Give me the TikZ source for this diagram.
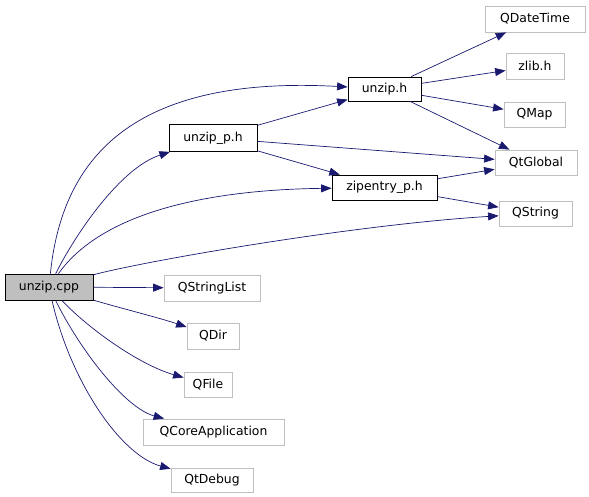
\documentclass[tikz,border=0pt]{standalone}
\usepackage{fontspec}
\newfontfamily\graphfont{DejaVu Sans}
\definecolor{DGEdge}{HTML}{191970}
\definecolor{DGGray}{HTML}{BFBFBF}
\definecolor{DGWhite}{HTML}{FFFFFF}
\usepackage{tikz}
\usetikzlibrary{positioning,arrows.meta}

\begin{document}
\begin{tikzpicture}[x=1pt, y=-1pt, font={\graphfont\fontsize{12.4}{14}\selectfont},
    file/.style={draw=black, fill=DGWhite, line width=0.8pt, inner sep=0pt, minimum height=25pt},
    ext/.style={file, draw=DGGray},
    dep/.style={-{Triangle[length=10.5pt,width=8pt]}, DGEdge, line width=0.7pt}]
    \useasboundingbox (0,0) rectangle (589,496);
    \node[file, fill=DGGray, minimum width=88pt, minimum height=26pt] (cpp) at (49,287) {unzip.cpp};
    \node[file, minimum width=88pt, minimum height=27pt] (uph) at (213,138) {unzip\_p.h};
    \node[file, minimum width=105pt] (zip) at (384.5,187.5) {zipentry\_p.h};
    \node[file, minimum width=73pt, minimum height=24pt] (uh) at (384.5,89) {unzip.h};
    \node[ext, minimum width=100pt, minimum height=26pt] (qdt) at (535,19) {QDateTime};
    \node[ext, minimum width=58pt, minimum height=26pt] (zlib) at (535,66) {zlib.h};
    \node[ext, minimum width=61pt] (qmap) at (534.5,114.5) {QMap};
    \node[ext, minimum width=82pt] (qglob) at (536,162.5) {QtGlobal};
    \node[ext, minimum width=73pt] (qstr) at (535.5,213.5) {QString};
    \node[ext, minimum width=96pt, minimum height=26pt] (qsl) at (212,288) {QStringList};
    \node[ext, minimum width=52pt, minimum height=26pt] (qdir) at (213,336) {QDir};
    \node[ext, minimum width=48pt] (qfile) at (208,384.5) {QFile};
    \node[ext, minimum width=141pt, minimum height=26pt] (qcore) at (213.5,432) {QCoreApplication};
    \node[ext, minimum width=82pt, minimum height=24pt] (qdbg) at (212,480) {QtDebug};
    % unzip.cpp
    \draw[dep] (cpp) .. controls (62,160) and (130,75) .. (uh);
    \draw[dep] (cpp) .. controls (75,235) and (120,168) .. (uph);
    \draw[dep] (cpp) .. controls (100,215) and (200,190) .. (zip);
    \draw[dep] (cpp) .. controls (140,262) and (350,225) .. (qstr);
    \draw[dep] (cpp) -- (qsl);
    \draw[dep] (cpp) .. controls (120,308) and (160,318) .. (qdir);
    \draw[dep] (cpp) .. controls (90,330) and (140,365) .. (qfile);
    \draw[dep] (cpp) .. controls (80,350) and (125,408) .. (qcore);
    \draw[dep] (cpp) .. controls (70,380) and (120,455) .. (qdbg);
    % unzip_p.h
    \draw[dep] (uph) -- (uh);
    \draw[dep] (uph) -- (qglob);
    \draw[dep] (uph) -- (zip);
    % unzip.h
    \draw[dep] (uh) -- (qdt);
    \draw[dep] (uh) -- (zlib);
    \draw[dep] (uh) -- (qmap);
    \draw[dep] (uh) -- (qglob);
    % zipentry_p.h
    \draw[dep] (zip) -- (qglob);
    \draw[dep] (zip) -- (qstr);
  \end{tikzpicture}
\end{document}
